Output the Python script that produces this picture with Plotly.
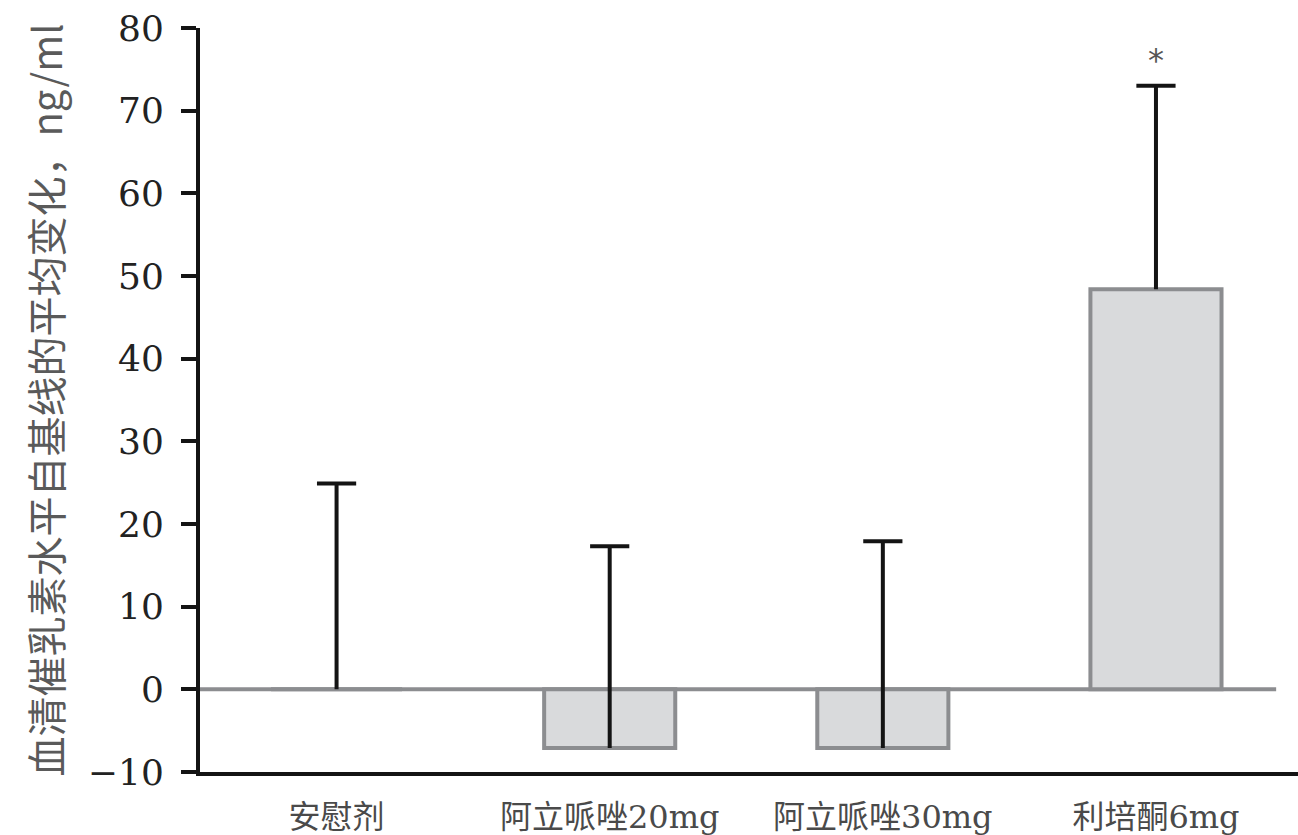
import plotly.graph_objects as go

# Mean change from baseline in serum prolactin (ng/ml), with upper SD arm
groups = ["安慰剂", "阿立哌唑20mg", "阿立哌唑30mg", "利培酮6mg"]
mean_change = [0.0, -7.1, -7.1, 48.4]
upper_err = [24.9, 24.4, 25.0, 24.6]
sig_marks = ["", "", "", "*"]

y_ticks = [-10, 0, 10, 20, 30, 40, 50, 60, 70, 80]
y_tick_text = ["−10", "0", "10", "20", "30", "40", "50", "60", "70", "80"]

err_top = [m + e for m, e in zip(mean_change, upper_err)]

fig = go.Figure()
# Bars with an upper-only error stem (caps drawn separately, top end only)
fig.add_trace(go.Bar(
    x=groups,
    y=mean_change,
    width=0.48,
    marker=dict(color="#d9dadc", line=dict(color="#8c8d90", width=4)),
    error_y=dict(type="data", symmetric=False, array=upper_err,
                 arrayminus=[0] * len(groups), color="#141414",
                 thickness=4, width=0),
    showlegend=False,
))
# Caps at the top of each error stem
fig.add_trace(go.Scatter(
    x=groups, y=err_top, mode="markers",
    marker=dict(symbol="line-ew", size=28, line=dict(color="#141414", width=4)),
    showlegend=False, hoverinfo="skip",
))

# Zero reference line
fig.add_shape(type="line", xref="x", yref="y", x0=-0.5, x1=3.44, y0=0, y1=0,
              line=dict(color="#8c8d90", width=4), layer="below")

# Significance markers above the error bars
for g, t, s in zip(groups, err_top, sig_marks):
    if s:
        fig.add_annotation(x=g, y=t, text=s, showarrow=False,
                           yanchor="bottom", yshift=5,
                           font=dict(family="DejaVu Sans", size=32, color="#555555"))

fig.update_layout(
    width=1298, height=835,
    margin=dict(l=200, r=0, t=28, b=63),
    paper_bgcolor="white", plot_bgcolor="white",
    font=dict(family="DejaVu Serif, Noto Sans CJK SC", color="#222222"),
)
fig.update_xaxes(
    range=[-0.5, 3.52], showgrid=False, showline=True, linecolor="#141414",
    linewidth=4, ticks="", tickfont=dict(family="DejaVu Serif, Noto Sans CJK SC",
                                         size=32, color="#4a4a4a"),
    ticklabelstandoff=14,
)
fig.update_yaxes(
    range=[-10, 80], tickvals=y_ticks, ticktext=y_tick_text,
    showgrid=False, zeroline=False, showline=True, linecolor="#141414",
    linewidth=4, ticks="outside", ticklen=15, tickwidth=4, tickcolor="#141414",
    tickfont=dict(family="DejaVu Serif", size=36, color="#222222"),
    ticklabelstandoff=10,
    title=dict(text="血清催乳素水平自基线的平均变化，ng/ml",
               font=dict(family="Noto Sans CJK SC", size=40, color="#5a5a5a"),
               standoff=14),
)

fig.write_html("out.html")
